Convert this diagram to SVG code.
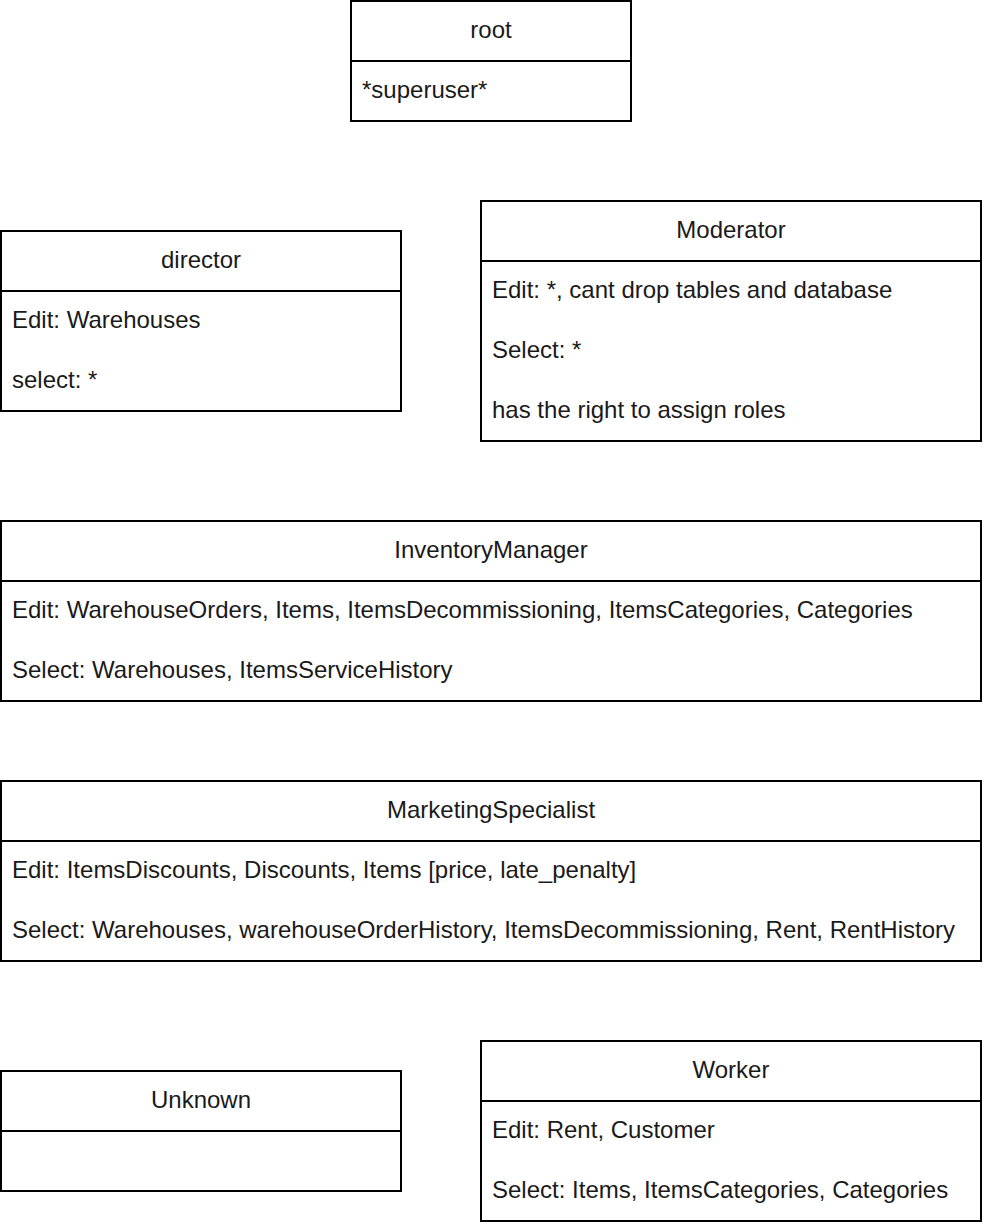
<svg xmlns="http://www.w3.org/2000/svg" width="984" height="1224" viewBox="0 0 984 1224">
<style>
rect{fill:#fff;stroke:#000;stroke-width:2}
line{stroke:#000;stroke-width:2}
text{font-family:"Liberation Sans",Arial,sans-serif;font-size:24px;fill:#1a1a1a}
.h{text-anchor:middle}
</style>
<rect x="0" y="0" width="984" height="1224" style="stroke:none"/>
<g id="root">
<rect x="351" y="1" width="280" height="120"/><line x1="351" y1="61" x2="631" y2="61"/>
<text class="h" x="491" y="38">root</text>
<text x="362" y="98">*superuser*</text>
</g>
<g id="director">
<rect x="1" y="231" width="400" height="180"/><line x1="1" y1="291" x2="401" y2="291"/>
<text class="h" x="201" y="268">director</text>
<text x="12" y="328">Edit: Warehouses</text>
<text x="12" y="388">select: *</text>
</g>
<g id="moderator">
<rect x="481" y="201" width="500" height="240"/><line x1="481" y1="261" x2="981" y2="261"/>
<text class="h" x="731" y="238">Moderator</text>
<text x="492" y="298">Edit: *, cant drop tables and database</text>
<text x="492" y="358">Select: *</text>
<text x="492" y="418">has the right to assign roles</text>
</g>
<g id="inventorymanager">
<rect x="1" y="521" width="980" height="180"/><line x1="1" y1="581" x2="981" y2="581"/>
<text class="h" x="491" y="558">InventoryManager</text>
<text x="12" y="618">Edit: WarehouseOrders, Items, ItemsDecommissioning, ItemsCategories, Categories</text>
<text x="12" y="678">Select: Warehouses, ItemsServiceHistory</text>
</g>
<g id="marketingspecialist">
<rect x="1" y="781" width="980" height="180"/><line x1="1" y1="841" x2="981" y2="841"/>
<text class="h" x="491" y="818">MarketingSpecialist</text>
<text x="12" y="878">Edit: ItemsDiscounts, Discounts, Items [price, late_penalty]</text>
<text x="12" y="938">Select: Warehouses, warehouseOrderHistory, ItemsDecommissioning, Rent, RentHistory</text>
</g>
<g id="unknown">
<rect x="1" y="1071" width="400" height="120"/><line x1="1" y1="1131" x2="401" y2="1131"/>
<text class="h" x="201" y="1108">Unknown</text>
</g>
<g id="worker">
<rect x="481" y="1041" width="500" height="180"/><line x1="481" y1="1101" x2="981" y2="1101"/>
<text class="h" x="731" y="1078">Worker</text>
<text x="492" y="1138">Edit: Rent, Customer</text>
<text x="492" y="1198">Select: Items, ItemsCategories, Categories</text>
</g>
<g id="connectors"/>
</svg>
